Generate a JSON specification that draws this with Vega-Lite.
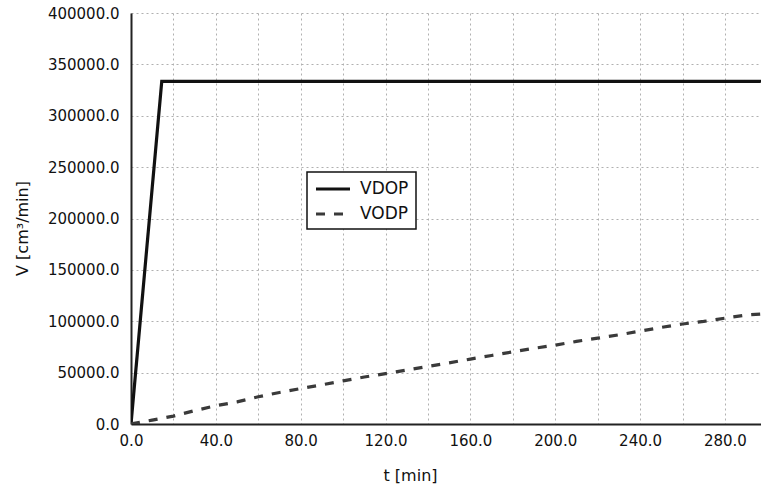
{
  "$schema": "https://vega.github.io/schema/vega-lite/v6.json",
  "width": 630,
  "height": 411,
  "autosize": "none",
  "padding": {"left": 131, "top": 13, "right": 0, "bottom": 64},
  "background": "white",
  "config": {
    "view": {"stroke": null},
    "font": "DejaVu Sans",
    "axis": {
      "labelFont": "DejaVu Sans",
      "labelFontSize": 15,
      "labelColor": "#111",
      "labelFlush": false,
      "titleFont": "DejaVu Sans",
      "titleFontSize": 16,
      "titleFontWeight": "normal",
      "titleColor": "#111",
      "domainColor": "#222",
      "domainWidth": 2,
      "tickColor": "#222",
      "tickWidth": 1.5,
      "tickSize": 0,
      "grid": true,
      "gridColor": "#b0b0b0",
      "gridDash": [2, 3],
      "gridWidth": 1
    }
  },
  "datasets": {
    "lines": [
      {"t": 0, "V": 0, "series": "VDOP"},
      {"t": 14.5, "V": 333500, "series": "VDOP"},
      {"t": 300, "V": 333500, "series": "VDOP"},
      {"t": 0, "V": 0, "series": "VODP"},
      {"t": 10, "V": 3800, "series": "VODP"},
      {"t": 20, "V": 7700, "series": "VODP"},
      {"t": 30, "V": 13000, "series": "VODP"},
      {"t": 40, "V": 17800, "series": "VODP"},
      {"t": 50, "V": 21500, "series": "VODP"},
      {"t": 60, "V": 26500, "series": "VODP"},
      {"t": 70, "V": 30700, "series": "VODP"},
      {"t": 80, "V": 34500, "series": "VODP"},
      {"t": 90, "V": 38100, "series": "VODP"},
      {"t": 100, "V": 42000, "series": "VODP"},
      {"t": 110, "V": 45700, "series": "VODP"},
      {"t": 120, "V": 49000, "series": "VODP"},
      {"t": 130, "V": 52500, "series": "VODP"},
      {"t": 140, "V": 56000, "series": "VODP"},
      {"t": 150, "V": 59500, "series": "VODP"},
      {"t": 160, "V": 63200, "series": "VODP"},
      {"t": 170, "V": 66700, "series": "VODP"},
      {"t": 180, "V": 70200, "series": "VODP"},
      {"t": 190, "V": 73700, "series": "VODP"},
      {"t": 200, "V": 76700, "series": "VODP"},
      {"t": 210, "V": 80400, "series": "VODP"},
      {"t": 220, "V": 83500, "series": "VODP"},
      {"t": 230, "V": 86800, "series": "VODP"},
      {"t": 240, "V": 90400, "series": "VODP"},
      {"t": 250, "V": 94000, "series": "VODP"},
      {"t": 260, "V": 97300, "series": "VODP"},
      {"t": 270, "V": 99800, "series": "VODP"},
      {"t": 280, "V": 103000, "series": "VODP"},
      {"t": 290, "V": 106000, "series": "VODP"},
      {"t": 300, "V": 107500, "series": "VODP"}
    ]
  },
  "layer": [
    {
      "data": {"name": "lines"},
      "mark": {"type": "line", "strokeWidth": 3.2, "clip": true},
      "encoding": {
        "x": {
          "field": "t",
          "type": "quantitative",
          "scale": {"domain": [0, 297], "nice": false},
          "axis": {
            "title": "t [min]",
            "values": [0, 20, 40, 60, 80, 100, 120, 140, 160, 180, 200, 220, 240, 260, 280],
            "labelExpr": "datum.value % 40 == 0 ? format(datum.value, '.1f') : ''",
            "labelPadding": 9,
            "titleX": 279,
            "titleY": 51,
            "titleBaseline": "middle",
            "titleAlign": "center",
            "encode": {"ticks": {"update": {"y2": {"value": -5}}}}
          }
        },
        "y": {
          "field": "V",
          "type": "quantitative",
          "scale": {"domain": [0, 400000], "nice": false},
          "axis": {
            "title": "V [cm³/min]",
            "values": [0, 50000, 100000, 150000, 200000, 250000, 300000, 350000, 400000],
            "format": ".1f",
            "labelPadding": 12,
            "titleX": -109,
            "titleY": 215,
            "titleAngle": -90,
            "titleBaseline": "middle",
            "titleAlign": "center",
            "encode": {"ticks": {"update": {"x2": {"value": 5}}}}
          }
        },
        "color": {
          "field": "series",
          "type": "nominal",
          "scale": {"domain": ["VDOP", "VODP"], "range": ["#111111", "#3a3a3a"]},
          "legend": {
            "orient": "none",
            "legendX": 176,
            "legendY": 159,
            "title": null,
            "fillColor": "white",
            "strokeColor": "#111",
            "padding": 7,
            "symbolType": "M-2,0H2",
            "symbolSize": 289,
            "symbolStrokeWidth": 3,
            "symbolOffset": 9,
            "labelFont": "DejaVu Sans",
            "labelFontSize": 17,
            "labelColor": "#111",
            "labelOffset": 17,
            "rowPadding": 7,
            "encode": {
              "legend": {"update": {"strokeWidth": {"value": 1.5}}},
              "symbols": {"update": {
                "fill": {"value": "transparent"},
                "strokeDash": [{"test": "datum.value === 'VODP'", "value": [8, 5]}, {"value": [1, 0]}]
              }}
            }
          }
        },
        "strokeDash": {
          "field": "series",
          "type": "nominal",
          "scale": {"domain": ["VDOP", "VODP"], "range": [[1, 0], [9, 9]]},
          "legend": null
        }
      }
    },
    {
      "mark": {"type": "rule", "color": "#222", "strokeWidth": 2},
      "encoding": {
        "y": {"datum": 400000, "type": "quantitative", "title": "V [cm³/min]"}
      }
    }
  ]
}
